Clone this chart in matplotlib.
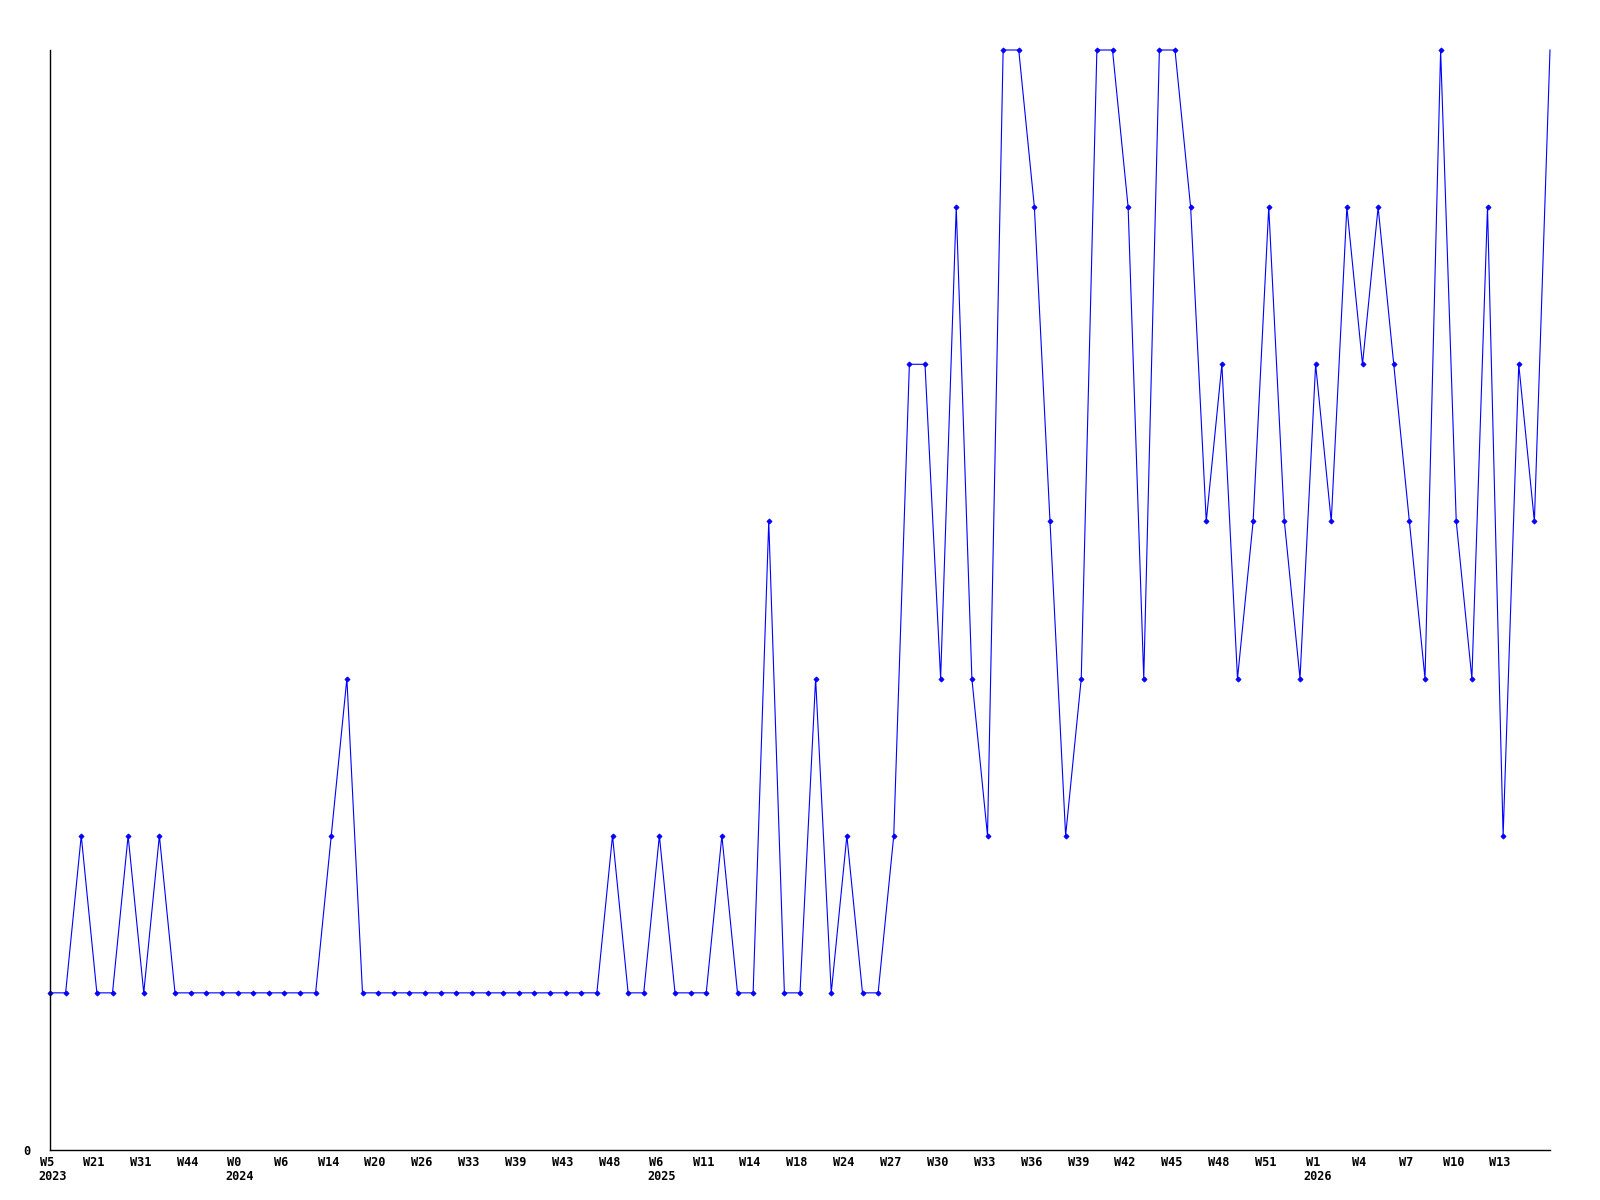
import numpy as np
import matplotlib
matplotlib.use('Agg')
import matplotlib.pyplot as plt
from matplotlib.transforms import ScaledTranslation

# weekly counts, one point per week
values = [1, 1, 2, 1, 1, 2, 1, 2, 1, 1,
          1, 1, 1, 1, 1, 1, 1, 1, 2, 3,
          1, 1, 1, 1, 1, 1, 1, 1, 1, 1,
          1, 1, 1, 1, 1, 1, 2, 1, 1, 2,
          1, 1, 1, 2, 1, 1, 4, 1, 1, 3,
          1, 2, 1, 1, 2, 5, 5, 3, 6, 3,
          2, 7, 7, 6, 4, 2, 3, 7, 7, 6,
          3, 7, 7, 6, 4, 5, 3, 4, 6, 4,
          3, 5, 4, 6, 5, 6, 5, 4, 3, 7,
          4, 3, 6, 2, 5, 4, 7]

# a label every third week
week_labels = ['W5', 'W21', 'W31', 'W44', 'W0', 'W6', 'W14', 'W20', 'W26', 'W33',
               'W39', 'W43', 'W48', 'W6', 'W11', 'W14', 'W18', 'W24', 'W27', 'W30',
               'W33', 'W36', 'W39', 'W42', 'W45', 'W48', 'W51', 'W1', 'W4', 'W7',
               'W10', 'W13']
year_labels = {0: '2023', 12: '2024', 39: '2025', 81: '2026'}

font = dict(family='DejaVu Sans Mono', weight='bold', size=8.6)

fig = plt.figure(figsize=(16, 12), dpi=100)
ax = fig.add_axes([50 / 1600, 50 / 1200, 1500 / 1600, 1100 / 1200])

x = np.arange(len(values))
ax.plot(x, values, color='#0000ff', linewidth=0.8, marker='D', markersize=2.6,
        markeredgewidth=0.6, markevery=list(range(len(values) - 1)), clip_on=False)

ax.set_xlim(0, len(values) - 1)
ax.set_ylim(0, 7)

ax.spines['top'].set_visible(False)
ax.spines['right'].set_visible(False)
for s in ('left', 'bottom'):
    ax.spines[s].set_linewidth(1.0)
    ax.spines[s].set_color('black')

tick_pos = np.arange(0, len(values), 3)[:len(week_labels)]
ax.set_xticks(tick_pos)
ax.set_xticklabels(week_labels, **font)
ax.set_yticks([0])
ax.set_yticklabels(['0'], **font)
ax.tick_params(axis='x', length=0, pad=4)
ax.tick_params(axis='y', length=0, pad=14)

shift = ScaledTranslation(-3 / 100, 0, fig.dpi_scale_trans)
for lab in ax.get_xticklabels():
    lab.set_transform(lab.get_transform() + shift)

for idx, year in year_labels.items():
    wk = week_labels[idx // 3]
    ax.annotate(year, xy=(idx, 0), xycoords=('data', 'axes fraction'),
                xytext=(-len(wk) * 7 / 2 - 5, -26), textcoords='offset pixels',
                ha='left', va='center', **font)

fig.savefig('out.png', dpi=100)
